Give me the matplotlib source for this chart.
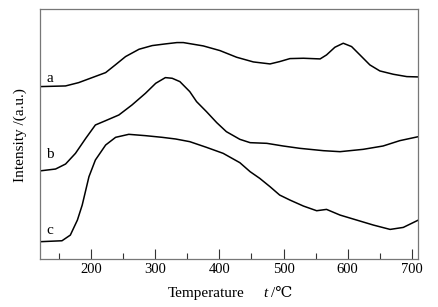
import matplotlib
matplotlib.use("Agg")
import matplotlib.pyplot as plt
from matplotlib.ticker import MultipleLocator

plt.rcParams['font.family'] = ['Liberation Serif', 'DejaVu Serif', 'DejaVu Sans']

# Curve a
temp_a = [119.5, 160.5, 181, 202, 223, 238, 254, 275, 295.5, 316, 334, 344, 375, 401, 427,
          453, 479, 494, 510, 531, 557, 567, 580, 593, 606, 619, 634.5, 650, 671, 692, 710]
int_a = [517, 519, 529, 544, 559, 582, 607, 629, 640, 645, 649, 649, 639, 625, 605,
         591, 585, 592, 601, 602, 600, 612, 635, 647, 637, 612, 582, 564, 554, 547, 546]

# Curve b
temp_b = [119, 145, 160.6, 176, 192, 207, 223, 243.6, 264, 285, 301, 316, 326.6, 338.6, 354,
          364.6, 380, 396, 411, 432, 448, 474, 499.5, 525.5, 562, 588, 624, 655, 681, 710]
int_b = [264, 270, 285, 317, 362, 402, 415, 432, 462, 497, 527, 544, 542, 532, 502,
         472, 442, 409, 382, 359, 349, 347, 339, 332, 325, 322, 329, 339, 355, 367]

# Curve c
temp_c = [119, 155, 168, 179, 186.5, 197, 207, 223, 238.5, 259, 285, 311, 332, 354, 380,
          406, 432, 448, 463, 479, 494, 510, 531, 551.6, 567, 588, 614, 640, 666, 686.5, 710]
int_c = [52, 55, 72, 117, 162, 247, 297, 342, 365, 374, 370, 365, 360, 352, 335,
         317, 289, 262, 242, 217, 192, 177, 159, 145, 149, 132, 117, 102, 89, 95, 117]

labels = ['a', 'b', 'c']
label_y = [532, 302, 74]
xticks = [200, 300, 400, 500, 600, 700]

fig = plt.figure(figsize=(4.39, 3.07), dpi=100)
ax = fig.add_axes([0.090, 0.156, 0.863, 0.814])

for t, v in [(temp_a, int_a), (temp_b, int_b), (temp_c, int_c)]:
    ax.plot(t, v, color='black', lw=1.1, solid_joinstyle='round', solid_capstyle='round')

for lab, y in zip(labels, label_y):
    ax.text(136, y, lab, fontsize=11, ha='center', va='baseline')

ax.set_xlim(120, 710)
ax.set_ylim(0, 749)
ax.set_xticks(xticks)
ax.xaxis.set_minor_locator(MultipleLocator(50))
ax.tick_params(axis='x', which='major', direction='in', length=7, width=0.8,
               labelsize=10.5, color='#333333', pad=3)
ax.tick_params(axis='x', which='minor', direction='in', length=4, width=0.8, color='#333333')
ax.set_yticks([])
for s in ax.spines.values():
    s.set_color('#777777')
    s.set_linewidth(0.9)

# axis titles
fig.text(168 / 439, 1 - 297 / 307, 'Temperature', fontsize=11, ha='left', va='baseline')
fig.text(263 / 439, 1 - 297 / 307, 't', fontsize=11, fontstyle='italic', ha='left', va='baseline')
fig.text(271 / 439, 1 - 297 / 307, '/℃', fontsize=11, ha='left', va='baseline')
fig.text(20.7 / 439, 1 - 135 / 307, 'Intensity /(a.u.)', fontsize=11, rotation=90,
         ha='center', va='center')

fig.savefig('out.png', dpi=100)
